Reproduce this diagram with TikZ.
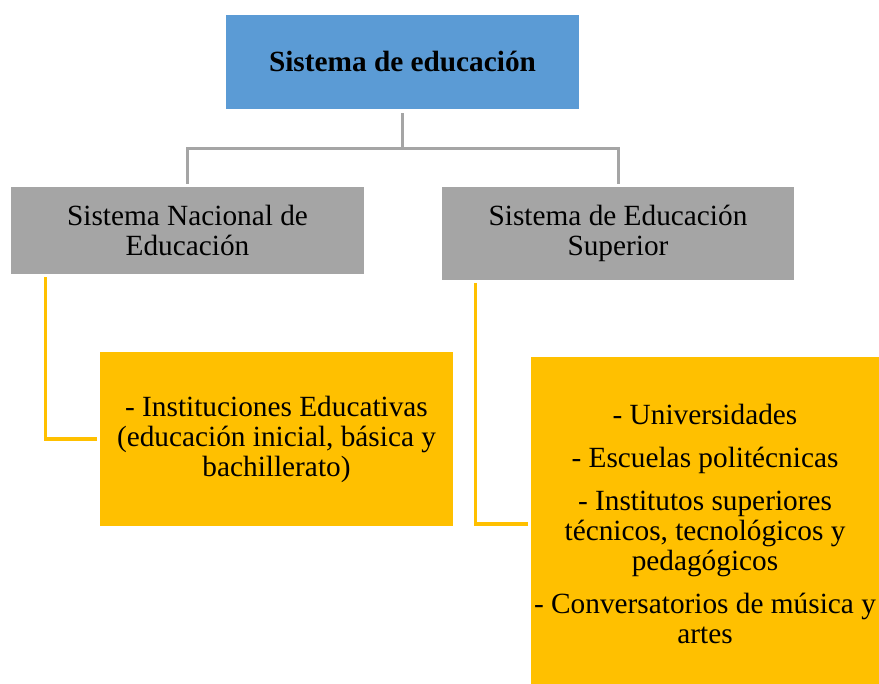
\documentclass[tikz,border=0pt]{standalone}
\usepackage{fontspec}
\setmainfont{Liberation Serif}
\definecolor{topblue}{HTML}{5B9BD5}
\definecolor{midgray}{HTML}{A5A5A5}
\definecolor{gold}{HTML}{FFC000}
\begin{document}
\begin{tikzpicture}[x=1pt,y=-1pt,
  boxbase/.style={rectangle, inner sep=0pt, align=center, font=\fontsize{29.3}{30}\selectfont},
  topbox/.style={boxbase, fill=topblue, font=\fontsize{29.3}{30}\selectfont\bfseries},
  graybox/.style={boxbase, fill=midgray},
  goldbox/.style={boxbase, fill=gold},
  grayline/.style={draw=midgray, line width=3pt},
  goldline/.style={draw=gold, line width=3.2pt}]
\useasboundingbox (0,0) rectangle (879,684);
\node[topbox, minimum width=353pt, minimum height=94pt, text height=20pt, text depth=0pt] (top) at (402.5,62) {Sistema de educación};
\node[graybox, minimum width=353pt, minimum height=87pt] (lg) at (187.5,230.5) {Sistema Nacional de\\Educación};
\node[graybox, minimum width=352pt, minimum height=93pt] (rg) at (618,233.5) {Sistema de Educación\\Superior};
\node[goldbox, minimum width=353pt, minimum height=174pt] (lo) at (276.5,439) {- Instituciones Educativas\\(educación inicial, básica y\\bachillerato)};
\node[goldbox, minimum width=348pt, minimum height=334pt] (ro) at (705,524) {- Universidades\\[13pt]- Escuelas politécnicas\\[13pt]- Institutos superiores\\técnicos, tecnológicos y\\pedagógicos\\[13pt]- Conversatorios de música y\\artes};
\draw[grayline, shorten <=4pt, shorten >=3pt] (top.south) -- ++(0,39) -| (lg.north);
\draw[grayline, shorten <=4pt, shorten >=3pt] (top.south) -- ++(0,39) -| (rg.north);
\draw[goldline, shorten <=3pt, shorten >=3pt] ([xshift=34.5pt]lg.south west) |- (lo.west);
\draw[goldline, shorten <=3pt, shorten >=3pt] ([xshift=33.5pt]rg.south west) |- (ro.west);
\end{tikzpicture}
\end{document}
